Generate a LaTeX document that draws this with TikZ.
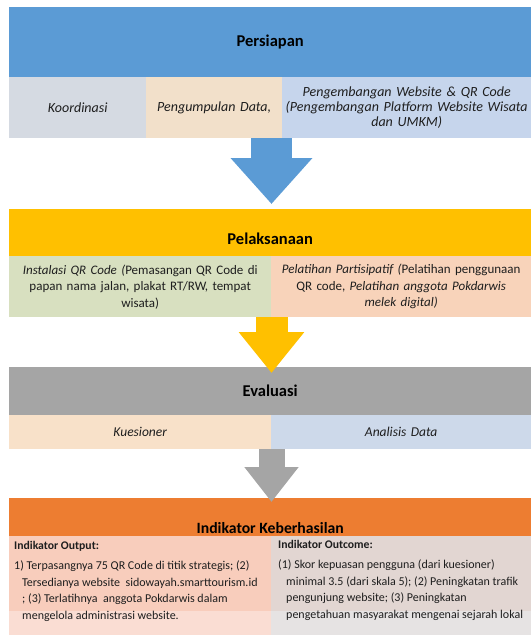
\documentclass[tikz,border=0pt]{standalone}
\usepackage{fontspec}
\setmainfont{Carlito}
\usetikzlibrary{arrows.meta,calc}
\definecolor{hblue}{HTML}{5B9BD5}
\definecolor{hyellow}{HTML}{FFC000}
\definecolor{hgray}{HTML}{A5A5A5}
\definecolor{horange}{HTML}{ED7D31}
\definecolor{cgrayblue}{HTML}{D5DAE2}
\definecolor{ctan}{HTML}{F2E0CA}
\definecolor{clblue}{HTML}{C6D5EC}
\definecolor{cgreen}{HTML}{D8E0C0}
\definecolor{csalmon}{HTML}{F8D3BA}
\definecolor{cpeach}{HTML}{F8E1C9}
\definecolor{cblue2}{HTML}{CDD9EA}
\definecolor{bleftup}{HTML}{F8CDBC}
\definecolor{bleftlo}{HTML}{FADDD3}
\definecolor{brightup}{HTML}{E2D6D2}
\definecolor{brightlo}{HTML}{E6E3E3}
\definecolor{txt}{HTML}{1E1E1E}
\tikzset{
  header/.style={anchor=north west, inner sep=0pt, minimum width=522pt, font=\fontsize{16.5}{18}\selectfont\bfseries, text=black},
  cell/.style={anchor=north west, inner sep=0pt, align=center, text=txt},
  btext/.style={anchor=north west, inner sep=0pt, align=left, text=txt, font=\fontsize{12}{16.5}\selectfont},
  bhead/.style={anchor=north west, inner sep=0pt, align=left, text=txt, font=\fontsize{11.7}{13}\selectfont\bfseries},
  bigarrow/.style={line width=#1, line cap=butt},
}
\begin{document}
\begin{tikzpicture}[x=1pt,y=-1pt]
\useasboundingbox (0,0) rectangle (531,635);
\coordinate (axis) at (271.5,0);
% Persiapan
\node[header, fill=hblue, minimum height=70pt] (h1) at (9,7) {Persiapan};
\node[cell, fill=cgrayblue, minimum width=137pt, minimum height=61pt, text width=130pt, font=\fontsize{14}{15.3}\selectfont\itshape] (r1a) at (9,77) {Koordinasi};
\node[cell, fill=ctan, minimum width=136pt, minimum height=61pt, text width=130pt, font=\fontsize{14}{15.3}\selectfont\itshape] (r1b) at (146,77) {Pengumpulan Data,};
\node[cell, fill=clblue, minimum width=249pt, minimum height=61pt, text width=245pt, font=\fontsize{14}{15.3}\selectfont\itshape] (r1c) at (282,77) {Pengembangan Website \& QR Code\\(Pengembangan Platform Website Wisata\\dan UMKM)};
% Pelaksanaan
\node[header, fill=hyellow, minimum height=47pt, text height=23pt, text depth=0pt] (h2) at (9,209) {Pelaksanaan};
\node[cell, fill=cgreen, minimum width=262pt, minimum height=61pt, text width=258pt, font=\fontsize{13}{16.5}\selectfont] (r2a) at (9,256) {\textit{Instalasi QR Code (}Pemasangan QR Code di\\papan nama jalan, plakat RT/RW, tempat\\wisata)};
\node[cell, fill=csalmon, minimum width=260pt, minimum height=61pt, text width=256pt, font=\fontsize{13}{16.5}\selectfont] (r2b) at (271,256) {\textit{Pelatihan Partisipatif (}Pelatihan penggunaan\\QR code, \textit{Pelatihan anggota Pokdarwis}\\\textit{melek digital)}};
% Evaluasi
\node[header, fill=hgray, minimum height=48pt] (h3) at (9,367) {Evaluasi};
\node[cell, fill=cpeach, minimum width=262pt, minimum height=34pt, text width=258pt, font=\fontsize{13.5}{16.5}\selectfont\itshape] (r3a) at (9,415) {Kuesioner};
\node[cell, fill=cblue2, minimum width=260pt, minimum height=34pt, text width=256pt, font=\fontsize{13.5}{16.5}\selectfont\itshape] (r3b) at (271,415) {Analisis Data};
% Indikator
\node[header, fill=horange, minimum height=38pt, text height=32pt, text depth=0pt, font=\fontsize{15.7}{18}\selectfont\bfseries] (h4) at (9,498) {Indikator Keberhasilan};
\fill[bleftup] (9,536) rectangle (271,611);
\fill[bleftlo] (9,611) rectangle (271,635);
\fill[brightup] (271,536) rectangle (531,611);
\fill[brightlo] (271,611) rectangle (531,635);
\node[bhead] (o1) at (14,541) {Indikator Output:};
\node[btext] (o2) at (14,561) {1) Terpasangnya 75 QR Code di titik strategis; (2)\\\hspace*{8pt}Tersedianya website\ \ sidowayah.smarttourism.id\\\hspace*{8pt}; (3) Terlatihnya\ \ anggota Pokdarwis dalam\\\hspace*{8pt}mengelola administrasi website.};
\node[bhead] (c1) at (278,540) {Indikator Outcome:};
\node[btext] (c2) at (278,560) {(1) Skor kepuasan pengguna (dari kuesioner)\\\hspace*{8pt}minimal 3.5 (dari skala 5); (2) Peningkatan trafik\\\hspace*{8pt}pengunjung website; (3) Peningkatan\\\hspace*{8pt}pengetahuan masyarakat mengenai sejarah lokal};
% arrows
\draw[hblue, bigarrow=41pt, -{Triangle[width=79pt,length=46pt]}, shorten >=5pt] (axis |- r1b.south) -- (axis |- h2.north);
\draw[hyellow, bigarrow=32pt, -{Triangle[width=63pt,length=41pt]}, shorten >=-6pt] (axis |- r2a.south) -- (axis |- h3.north);
\draw[hgray, bigarrow=26pt, -{Triangle[width=52pt,length=35pt]}, shorten >=-4pt] (axis |- r3a.south) -- (axis |- h4.north);
\end{tikzpicture}
\end{document}
